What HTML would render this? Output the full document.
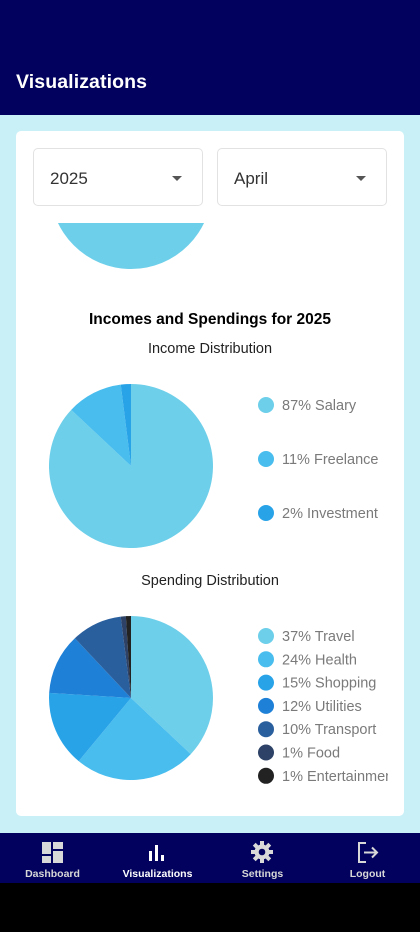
<!DOCTYPE html>
<html><head><meta charset="utf-8">
<style>
*{margin:0;padding:0;box-sizing:border-box}
body{width:420px;height:932px;overflow:hidden;background:#000;font-family:"Liberation Sans",sans-serif;position:relative}
.abs{position:absolute}
#top{left:0;top:0;width:420px;height:115px;background:#02025e}
#title{left:16px;top:71px;color:#fff;font-size:19.5px;font-weight:bold;letter-spacing:0.1px}
#bg{left:0;top:115px;width:420px;height:718px;background:#c9f0f7}
#card{left:16px;top:131px;width:388px;height:685px;background:#fff;border-radius:5px;overflow:hidden}
.dd{border:1px solid #e2e2e2;border-radius:5px;height:58px;top:17px;width:170px;background:#fff}
.dd span{position:absolute;left:16px;top:20px;font-size:17px;color:#333}
.dd i{position:absolute;right:20px;top:27px;width:0;height:0;border-left:5px solid transparent;border-right:5px solid transparent;border-top:5px solid #555}
.h{width:388px;text-align:center;color:#000}
.nav{top:833px;left:0;width:420px;height:50px;background:#02025e}
.ni{position:absolute;top:0;width:105px;height:50px;text-align:center;color:#d8d8d8;font-size:10.5px}
.ni b{position:absolute;left:0;width:105px;top:35px;font-weight:bold}
</style></head><body>
<div id="top" class="abs"></div>
<div id="title" class="abs">Visualizations</div>
<div id="bg" class="abs"></div>
<div id="card" class="abs">
  <div class="dd abs" style="left:17px"><span>2025</span><i></i></div>
  <div class="dd abs" style="left:201px"><span>April</span><i></i></div>
  <svg class="abs" style="left:0;top:92px" width="388" height="60">
    <circle cx="115" cy="-35" r="81" fill="#6dcfea"/>
  </svg>
  <div class="h abs" style="top:180px;font-size:15.5px;font-weight:bold">Incomes and Spendings for 2025</div>
  <div class="h abs" style="top:210px;font-size:14.5px;color:#222">Income Distribution</div>
  <div class="h abs" style="top:442px;font-size:14.5px;color:#222">Spending Distribution</div>
  <svg id="pies" class="abs" style="left:0;top:0" width="372" height="685"></svg>
</div>
<div class="nav abs">
  <div class="ni" style="left:0">
    <svg class="abs" style="left:42px;top:9px" width="21" height="21"><rect x="0" y="0" width="9" height="12" fill="#d8d8d8"/><rect x="11" y="0" width="10" height="7" fill="#d8d8d8"/><rect x="0" y="14" width="9" height="7" fill="#d8d8d8"/><rect x="11" y="9" width="10" height="12" fill="#d8d8d8"/></svg><b>Dashboard</b></div>
  <div class="ni" style="left:105px;color:#fff">
    <svg class="abs" style="left:44px;top:12px" width="17" height="16"><rect x="0" y="6" width="3" height="10" fill="#fff"/><rect x="6" y="0" width="3" height="16" fill="#fff"/><rect x="12" y="10" width="3" height="6" fill="#fff"/></svg><b>Visualizations</b></div>
  <div class="ni" style="left:210px">
    <svg class="abs" style="left:41px;top:8px" width="22" height="22" viewBox="0 0 22 22"><g fill="#d8d8d8"><circle cx="11" cy="11" r="7.5"/><rect x="9" y="0" width="4" height="22"/><rect x="9" y="0" width="4" height="22" transform="rotate(45 11 11)"/><rect x="9" y="0" width="4" height="22" transform="rotate(90 11 11)"/><rect x="9" y="0" width="4" height="22" transform="rotate(135 11 11)"/></g><circle cx="11" cy="11" r="3.3" fill="#02025e"/></svg><b>Settings</b></div>
  <div class="ni" style="left:315px">
    <svg class="abs" style="left:42px;top:9px" width="22" height="21"><path d="M9 1H2v19h7" fill="none" stroke="#d8d8d8" stroke-width="2"/><path d="M7 10.5h13M15 5.5l5 5-5 5" fill="none" stroke="#d8d8d8" stroke-width="2"/></svg><b>Logout</b></div>
</div>
<script>
const incomeLabels=["Salary","Freelance","Investment"];
const incomeValues=[87,11,2];
const incomeColors=["#6dcfea","#48bdee","#29a3e8"];
const spendLabels=["Travel","Health","Shopping","Utilities","Transport","Food","Entertainment"];
const spendValues=[37,24,15,12,10,1,1];
const spendColors=["#6dcfea","#48bdee","#29a3e8","#1e80d6","#2a5f9e","#2d4266","#222222"];
const NS="http://www.w3.org/2000/svg";
const svg=document.getElementById('pies');
function pie(vals,cols,labels,cx,cy,r,lx,ly,lstep,name){
  const tot=vals.reduce((a,b)=>a+b,0);let a=-Math.PI/2;
  vals.forEach((v,i)=>{
    const a2=a+v/tot*2*Math.PI;
    const p=document.createElementNS(NS,'path');
    const x1=cx+r*Math.cos(a),y1=cy+r*Math.sin(a),x2=cx+r*Math.cos(a2),y2=cy+r*Math.sin(a2);
    p.setAttribute('d',`M${cx},${cy}L${x1},${y1}A${r},${r} 0 ${a2-a>Math.PI?1:0} 1 ${x2},${y2}Z`);
    p.setAttribute('fill',cols[i]);
    
    
    svg.appendChild(p);a=a2;
    const y=ly+i*lstep;
    const c=document.createElementNS(NS,'circle');
    c.setAttribute('cx',lx);c.setAttribute('cy',y);c.setAttribute('r',8);c.setAttribute('fill',cols[i]);
    
    
    svg.appendChild(c);
    const t=document.createElementNS(NS,'text');
    t.setAttribute('x',lx+16);t.setAttribute('y',y+5);t.setAttribute('font-size','14.5');t.setAttribute('fill','#7a7a7a');
    t.setAttribute('font-family','Liberation Sans, sans-serif');
    t.textContent=Math.round(v/tot*100)+'% '+labels[i];
    
    
    svg.appendChild(t);
  });
}
pie(incomeValues,incomeColors,incomeLabels,115,335,82,250,274,54,'income');
pie(spendValues,spendColors,spendLabels,115,567,82,250,505,23.3,'spending');
</script>
</body></html>
